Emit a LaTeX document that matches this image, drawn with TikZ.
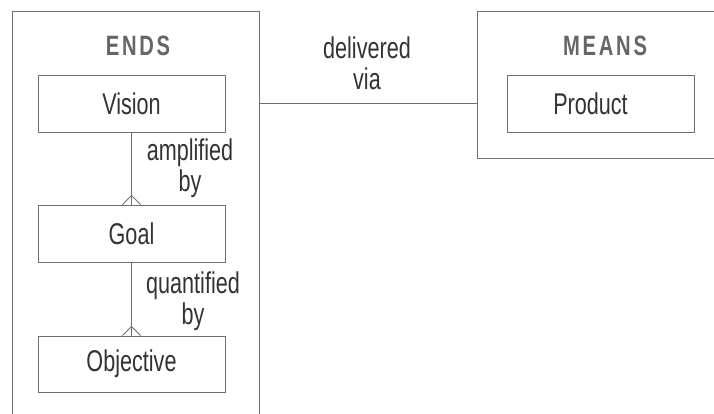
\documentclass[tikz,border=0pt]{standalone}
\usepackage{fontspec}
\setmainfont[FakeStretch=0.72]{Liberation Sans}
\newfontfamily\headfont[FakeStretch=0.72,LetterSpace=10]{Liberation Sans}
\definecolor{linegray}{HTML}{707070}
\definecolor{txt}{HTML}{333333}
\definecolor{headgray}{HTML}{666666}
\tikzset{
  container/.style={draw=linegray, line width=0.9pt, inner sep=0pt},
  entity/.style={draw=linegray, line width=0.9pt, minimum width=187pt, minimum height=57pt, inner sep=0pt, text=txt, font=\fontsize{30}{32}\selectfont},
  lbl/.style={text=txt, font=\fontsize{30}{31}\selectfont, align=center, inner sep=0pt},
  head/.style={text=headgray, font=\headfont\bfseries\fontsize{28}{30}\selectfont, inner sep=0pt},
  conn/.style={draw=linegray, line width=0.9pt}
}
\begin{document}
\begin{tikzpicture}[x=1pt,y=-1pt]
\clip (0,0) rectangle (714,414);
\fill[white] (0,0) rectangle (714,414);
\node[container, minimum width=247pt, minimum height=419pt] (ends) at (135.5,220.5) {};
\node[container, minimum width=253pt, minimum height=147pt] (means) at (603.5,84.5) {};
\node[head] (endst) at (138,46) {ENDS};
\node[head] (meanst) at (605,46) {MEANS};
\node[entity] (vision) at (131.5,103.5) {Vision};
\node[entity] (goal) at (131.5,233.5) {Goal};
\node[entity, minimum height=56pt] (objective) at (131.5,364) {Objective};
\node[entity] (product) at (600.5,103.5) {\kern-20pt Product};
\node[lbl] (l1) at (190,168) {amplified\\by};
\node[lbl] (l2) at (193,301) {quantified\\by};
\node[lbl] (l3) at (367,63) {delivered\\via};
\draw[conn] (ends.east |- vision.center) -- (means.west |- vision.center);
\draw[conn] (vision.south) -- (goal.north);
\draw[conn] ([xshift=-9pt]goal.north) -- ([yshift=9pt]goal.north) -- ([xshift=9pt]goal.north);
\draw[conn] (goal.south) -- (objective.north);
\draw[conn] ([xshift=-9pt]objective.north) -- ([yshift=9pt]objective.north) -- ([xshift=9pt]objective.north);
\end{tikzpicture}
\end{document}
